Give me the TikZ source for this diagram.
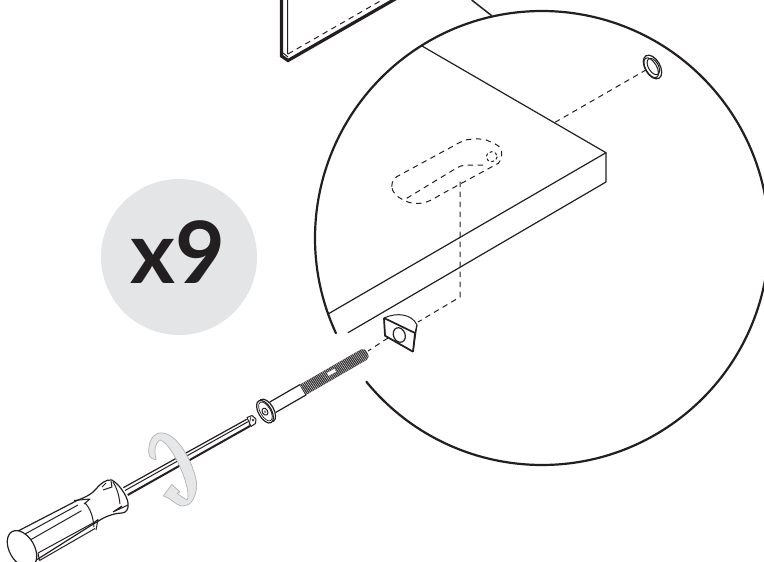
\documentclass[tikz,border=0pt]{standalone}
\usepackage{fontspec}
\usepackage{tikz}
\usetikzlibrary{arrows.meta,calc}
\newfontfamily\countfont{Lato}
\definecolor{inkline}{HTML}{231F20}
\definecolor{bubblegrey}{HTML}{E4E5E7}
\definecolor{ribbongrey}{HTML}{E6E7E8}
\tikzset{
  inkpath/.style={draw=inkline,line width=1.2pt,line join=round},
  thinpath/.style={draw=inkline,line width=1pt,line join=round},
  hidden/.style={draw=inkline,line width=1pt,dash pattern=on 5.5pt off 4.5pt},
  lens/.style={draw=inkline,line width=2.2pt,line cap=round},
}
\begin{document}
\begin{tikzpicture}[x=1pt,y=-1pt,>=Latex]
\pgfmathsetmacro{\cx}{542}
\pgfmathsetmacro{\cy}{238}
\pgfmathsetmacro{\rad}{227}
\useasboundingbox (0,0) rectangle (764,562);
\clip (0,0) rectangle (764,562);
\fill[bubblegrey] (179,257) circle (78);
\node[inkline,inner sep=0pt] (count) at (178,252.5) {\countfont\bfseries\fontsize{86}{86}\selectfont x9};
\draw[lens] ({\cx+\rad*cos(140.7)},{\cy+\rad*sin(140.7)}) arc[start angle=140.7,end angle=-204.8,radius=\rad];
\draw[inkpath,line width=1.5pt] (471.7,0) -- (491.7,15.7);
\draw[inkpath,line width=3.2pt,line join=miter] (281.5,-2) -- (281.5,56) -- (288,60.5) -- (397,-2);
\draw[thinpath] (287.5,0) -- (287.5,54) (283,53) -- (288,57);
\draw[hidden] (288,54) -- (382,0);
\draw[inkpath] (422,46) -- (606,152.7) -- (328,314);
\draw[inkpath] (606,152.7) -- (606,182) -- (348,332.7);
\draw[hidden] (555,122.3) -- (645,70.5);
\begin{scope}[shift={(652.5,67)},rotate=30]
\draw[inkpath,fill=white] (0,0) ellipse[x radius=7.5,y radius=13];
\draw[thinpath] (-1.5,0) ellipse[x radius=5.5,y radius=11];
\draw[thinpath] (1,0) ellipse[x radius=5,y radius=9];
\end{scope}
\draw[hidden] (391.7,186.7) .. controls (392,181) and (394,178.5) .. (396.7,176.7) -- (453.3,146) .. controls (460,142) and (465,139.5) .. (470,139.3) .. controls (480,138.5) and (486,139) .. (490,141.7) .. controls (497,144) and (502,148) .. (501.7,151.7) .. controls (502,157) and (501,160) .. (498.3,163.3) -- (440,195) .. controls (432,200) and (426,203) .. (420,203.3) .. controls (412,204) and (407,202) .. (403.3,200) .. controls (397,197) and (392,192) .. (391.7,186.7);
\draw[hidden] (406.7,198.3) -- (453.3,170) .. controls (458,167) and (462,165) .. (466.7,165) -- (485,165);
\draw[hidden,dash pattern=on 3pt off 2.5pt] (491.7,156.7) ellipse[x radius=5.5,y radius=5];
\draw[hidden] (460,181.7) -- (460,297) -- (418,322);
\draw[hidden] (388,338) -- (368,351);
\draw[thinpath,fill=white] (384,318) .. controls (397,312) and (412,314) .. (417,325) -- (413,351.7) -- (385,335.7) -- cycle;
\draw[inkpath,line width=1.7pt] (384,318) -- (385,335.7) -- (413,351.7) (384,318) -- (415,333) -- (413,351.7);
\draw[thinpath] (417,325) -- (415,333);
\draw[inkpath,fill=white] (399.3,335) ellipse[x radius=5.8,y radius=7.5,rotate=22];
\begin{scope}[shift={(265,411.7)},rotate=30]
\draw[inkpath,fill=white] (9,-6) -- (44,-6) -- (44,6) -- (9,6);
\fill[inkline!92] (43.5,-6) -- (114,-6) .. controls (117,-6) and (118,-4) .. (118,0) .. controls (118,4) and (117,6) .. (114,6) -- (43.5,6) -- cycle;
\foreach \u in {44,45.8,...,117} {
  \draw[white,line width=0.3pt] (\u,-6) -- (\u+0.8,6);
}
\fill[white] (73,-2.5) rectangle (81.5,0.8);
\draw[inkpath,fill=white] (2.5,0) ellipse[x radius=6.5,y radius=12.5];
\draw[inkpath,fill=white] (0,0) ellipse[x radius=6.5,y radius=12.5];
\draw[thinpath,line width=0.7pt] (0.5,0) ellipse[x radius=5,y radius=10.5];
\draw[thinpath] (0,0) ellipse[x radius=2.7,y radius=3.8];
\fill[inkline!60] (0,0) circle (1.4);
\end{scope}
\draw[inkpath] (123.3,487.7) -- (246.7,419.3);
\draw[thinpath] (125,490.5) -- (248,421.7);
\draw[inkpath,line width=2pt] (127.7,495) -- (250,426);
\draw[thinpath,fill=white] (247,417.5) -- (252,415.5) -- (256,419) -- (255.5,423.5) -- (251,426.5) -- cycle;
\draw[thinpath,line width=0.7pt] (251,416.5) -- (249,425.5) (253,420) circle (1);
\draw[inkpath,fill=white] (16.7,531.7) -- (78,500) .. controls (86,497) and (92,494) .. (96,489) .. controls (100,484) and (106,479) .. (111.7,480) .. controls (118,483) and (127,495) .. (128,503) .. controls (129,509) and (126,513) .. (122,513) .. controls (117,513) and (108,515) .. (100,520) -- (91.7,525) -- (30,564) -- cycle;
\draw[thinpath] (25,534) -- (78,505) (27.3,541.7) -- (81.5,510.7) (25,534) -- (27.3,541.7);
\draw[thinpath] (38,553) -- (93,523) (39.5,560.5) -- (95,528.5) (38,553) -- (39.5,560.5);
\draw[thinpath] (85,503) .. controls (90,508) and (93,516) .. (94,527);
\draw[thinpath] (74,500.5) -- (90,499) -- (84,504);
\draw[thinpath] (92,524) -- (98,519.5) -- (96,530);
\draw[thinpath] (113,482) .. controls (117,488) and (119,495) .. (120,504);
\draw[thinpath] (103,490) -- (112,487) -- (111,481);
\draw[thinpath] (113,512) -- (128,505) (113,512) -- (122,506);
\draw[thinpath] (102,487) -- (106,483);
\draw[inkpath,fill=white,rotate around={30:(22,549)}] (22,549) ellipse[x radius=12.5,y radius=20];
\draw[draw=gray!60,line width=0.7pt,fill=ribbongrey,line join=round] (149,447) .. controls (148,455) and (149,459) .. (156,459.5) .. controls (154,450) and (155,443) .. (160,440) .. controls (171,443) and (187,478) .. (188,494) .. controls (188,497) and (188,499) .. (187,500) -- (177,493.5) -- (180,492) -- (171.7,484.5) -- (163.3,496) -- (170,499) .. controls (175,503) and (179,506) .. (183,506) .. controls (190,506) and (195,500) .. (196.7,487) .. controls (197,470) and (180,435) .. (163,433) .. controls (155,432) and (150,438) .. (149,447);
\end{tikzpicture}
\end{document}
